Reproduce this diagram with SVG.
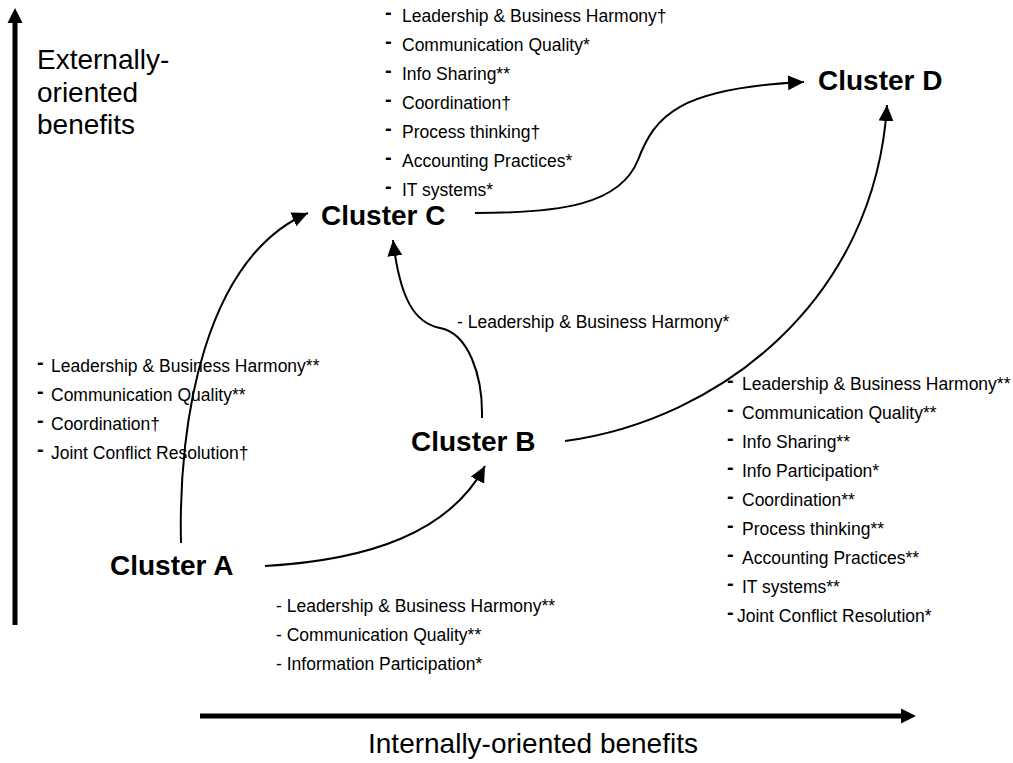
<svg xmlns="http://www.w3.org/2000/svg" width="1013" height="763" viewBox="0 0 1013 763">
<style>
  text { font-family: "Liberation Sans", Arial, sans-serif; fill: #000; }
  .axis-label { font-size: 28px; }
  .cluster { font-size: 28px; font-weight: bold; }
  .item { font-size: 17.5px; }
  .dash { font-size: 20px; font-weight: bold; }
  .axis { stroke: #000; stroke-width: 5; fill: none; }
  .conn { stroke: #000; stroke-width: 2; fill: none; marker-end: url(#arrow); }
</style>
<defs>
  <marker id="arrow" markerUnits="userSpaceOnUse" markerWidth="18" markerHeight="16" refX="16" refY="7.5" orient="auto">
    <path d="M0,0 L16,7.5 L0,15 Z" fill="#000"/>
  </marker>
</defs>
<rect width="1013" height="763" fill="#fff"/>

<g id="axes">
  <line class="axis" x1="15" y1="625" x2="15" y2="22"/>
  <path d="M7.5,23 L15,8 L22.5,23 Z" fill="#000"/>
  <line class="axis" x1="200" y1="716" x2="902" y2="716"/>
  <path d="M901,708.5 L916,716 L901,723.5 Z" fill="#000"/>
  <text class="axis-label" x="37" y="69">Externally-</text>
  <text class="axis-label" x="37" y="102">oriented</text>
  <text class="axis-label" x="37" y="134">benefits</text>
  <text class="axis-label" x="368" y="753">Internally-oriented benefits</text>
</g>

<g id="connectors">
  <path class="conn" d="M265,566 C370,560 450,532 485,466"/>
  <path class="conn" d="M181,543 C178,420 205,258 308,213"/>
  <path class="conn" d="M482,418 C483,375 468,333 440,328 C415,323 400,300 393,240"/>
  <path class="conn" d="M565,441 C720,420 875,300 887,105"/>
  <path class="conn" d="M475,213 C560,213 620,205 638,160 C655,115 680,88 804,82"/>
</g>

<g id="clusterA"><text class="cluster" x="110" y="575">Cluster A</text></g>
<g id="clusterB"><text class="cluster" x="411" y="451">Cluster B</text></g>
<g id="clusterC"><text class="cluster" x="321" y="225">Cluster C</text></g>
<g id="clusterD"><text class="cluster" x="818" y="90">Cluster D</text></g>

<g id="list-top">
  <text class="dash" x="385" y="19">-</text><text class="item" x="402" y="22">Leadership &amp; Business Harmony†</text>
  <text class="dash" x="385" y="48">-</text><text class="item" x="402" y="51">Communication Quality*</text>
  <text class="dash" x="385" y="77">-</text><text class="item" x="402" y="80">Info Sharing**</text>
  <text class="dash" x="385" y="106">-</text><text class="item" x="402" y="109">Coordination†</text>
  <text class="dash" x="385" y="135">-</text><text class="item" x="402" y="138">Process thinking†</text>
  <text class="dash" x="385" y="164">-</text><text class="item" x="402" y="167">Accounting Practices*</text>
  <text class="dash" x="385" y="193">-</text><text class="item" x="402" y="196">IT systems*</text>
</g>

<g id="list-left">
  <text class="dash" x="37" y="369">-</text><text class="item" x="51" y="372">Leadership &amp; Business Harmony**</text>
  <text class="dash" x="37" y="398">-</text><text class="item" x="51" y="401">Communication Quality**</text>
  <text class="dash" x="37" y="427">-</text><text class="item" x="51" y="430">Coordination†</text>
  <text class="dash" x="37" y="456">-</text><text class="item" x="51" y="459">Joint Conflict Resolution†</text>
</g>

<g id="label-BC">
  <text class="item" x="457" y="328">- Leadership &amp; Business Harmony*</text>
</g>

<g id="list-bottom">
  <text class="item" x="276" y="612">- Leadership &amp; Business Harmony**</text>
  <text class="item" x="276" y="641">- Communication Quality**</text>
  <text class="item" x="276" y="670">- Information Participation*</text>
</g>

<g id="list-right">
  <text class="dash" x="727" y="387">-</text><text class="item" x="742" y="390">Leadership &amp; Business Harmony**</text>
  <text class="dash" x="727" y="416">-</text><text class="item" x="742" y="419">Communication Quality**</text>
  <text class="dash" x="727" y="445">-</text><text class="item" x="742" y="448">Info Sharing**</text>
  <text class="dash" x="727" y="474">-</text><text class="item" x="742" y="477">Info Participation*</text>
  <text class="dash" x="727" y="503">-</text><text class="item" x="742" y="506">Coordination**</text>
  <text class="dash" x="727" y="532">-</text><text class="item" x="742" y="535">Process thinking**</text>
  <text class="dash" x="727" y="561">-</text><text class="item" x="742" y="564">Accounting Practices**</text>
  <text class="dash" x="727" y="590">-</text><text class="item" x="742" y="593">IT systems**</text>
  <text class="dash" x="727" y="619">-</text><text class="item" x="737" y="622">Joint Conflict Resolution*</text>
</g>
</svg>
